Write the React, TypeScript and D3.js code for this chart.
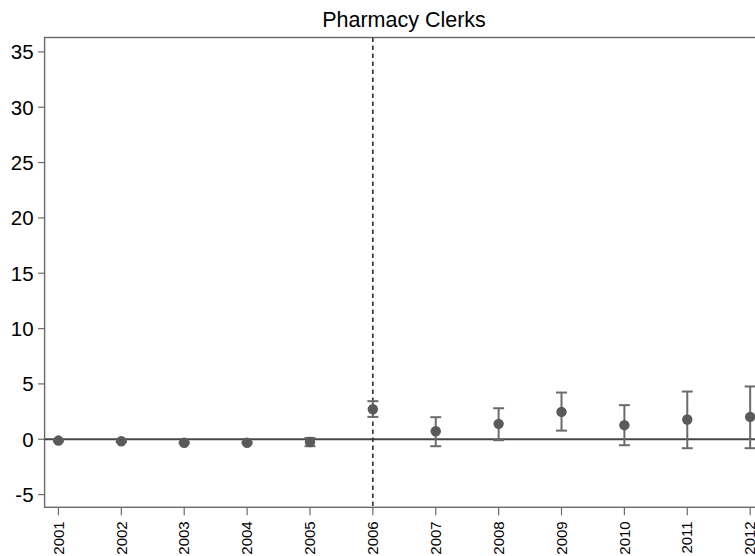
import React from "react";
import * as d3 from "d3";

// Estimated coefficients with 95% confidence intervals, by year
const years = [2001, 2002, 2003, 2004, 2005, 2006, 2007, 2008, 2009, 2010, 2011, 2012];
const estimates = [-0.12, -0.18, -0.32, -0.32, -0.25, 2.71, 0.72, 1.39, 2.47, 1.27, 1.78, 2.02];
const lowerCI = [-0.2, -0.25, -0.4, -0.4, -0.63, 2.02, -0.63, -0.09, 0.78, -0.54, -0.81, -0.81];
const upperCI = [-0.04, -0.1, -0.24, -0.24, 0.12, 3.44, 1.99, 2.8, 4.22, 3.08, 4.31, 4.77];
const yTicks = [-5, 0, 5, 10, 15, 20, 25, 30, 35];
const eventYear = 2006;
const title = "Pharmacy Clerks";

const W = 755;
const H = 556;
const left = 44.6;
const right = 764;
const top = 37.5;
const bottom = 507.3;

export default function App() {
  const x = d3.scaleLinear().domain([2000.78, 2012.22]).range([left, right]);
  const y = d3.scaleLinear().domain([-6.15, 36.3]).range([bottom, top]);
  const font = "'Liberation Sans', Arial, Helvetica, sans-serif";

  return (
    <svg
      width={W}
      height={H}
      style={{ position: "absolute", left: 0, top: 0, background: "#fff" }}
      fontFamily={font}
    >
      <text x={404} y={27} textAnchor="middle" fontSize={21.5} fill="#000">
        {title}
      </text>

      {/* plot frame */}
      <rect
        x={left}
        y={top}
        width={right - left}
        height={bottom - top}
        fill="none"
        stroke="#6a6a6a"
        strokeWidth={1.4}
      />

      {/* y axis ticks and labels */}
      {yTicks.map((t) => (
        <g key={t}>
          <line x1={left - 6.5} x2={left} y1={y(t)} y2={y(t)} stroke="#6a6a6a" strokeWidth={1.2} />
          <text
            x={left - 11}
            y={y(t)}
            dy="0.36em"
            textAnchor="end"
            fontSize={20.5}
            fill="#000"
          >
            {t}
          </text>
        </g>
      ))}

      {/* x axis ticks and rotated labels */}
      {years.map((yr) => (
        <g key={yr}>
          <line x1={x(yr)} x2={x(yr)} y1={bottom} y2={bottom + 8} stroke="#6a6a6a" strokeWidth={1.2} />
          <text
            transform={`translate(${x(yr) + 5.2},${bottom + 14}) rotate(-90)`}
            textAnchor="end"
            fontSize={15}
            fill="#000"
          >
            {yr}
          </text>
        </g>
      ))}

      {/* reference line at zero */}
      <line x1={left} x2={right} y1={y(0)} y2={y(0)} stroke="#474747" strokeWidth={2} />

      {/* event year marker */}
      <line
        x1={x(eventYear)}
        x2={x(eventYear)}
        y1={top}
        y2={bottom}
        stroke="#333"
        strokeWidth={1.6}
        strokeDasharray="4.5,3.5"
      />

      {/* confidence intervals */}
      {years.map((yr, i) => {
        const cx = x(yr);
        const y1 = y(upperCI[i]);
        const y2 = y(lowerCI[i]);
        return (
          <g key={`ci-${yr}`} stroke="#6b6b6b" strokeWidth={2}>
            <line x1={cx} x2={cx} y1={y1} y2={y2} />
            <line x1={cx - 5.5} x2={cx + 5.5} y1={y1} y2={y1} />
            <line x1={cx - 5.5} x2={cx + 5.5} y1={y2} y2={y2} />
          </g>
        );
      })}

      {/* point estimates */}
      {years.map((yr, i) => (
        <circle key={`pt-${yr}`} cx={x(yr)} cy={y(estimates[i])} r={5.2} fill="#5a5a5a" />
      ))}
    </svg>
  );
}
